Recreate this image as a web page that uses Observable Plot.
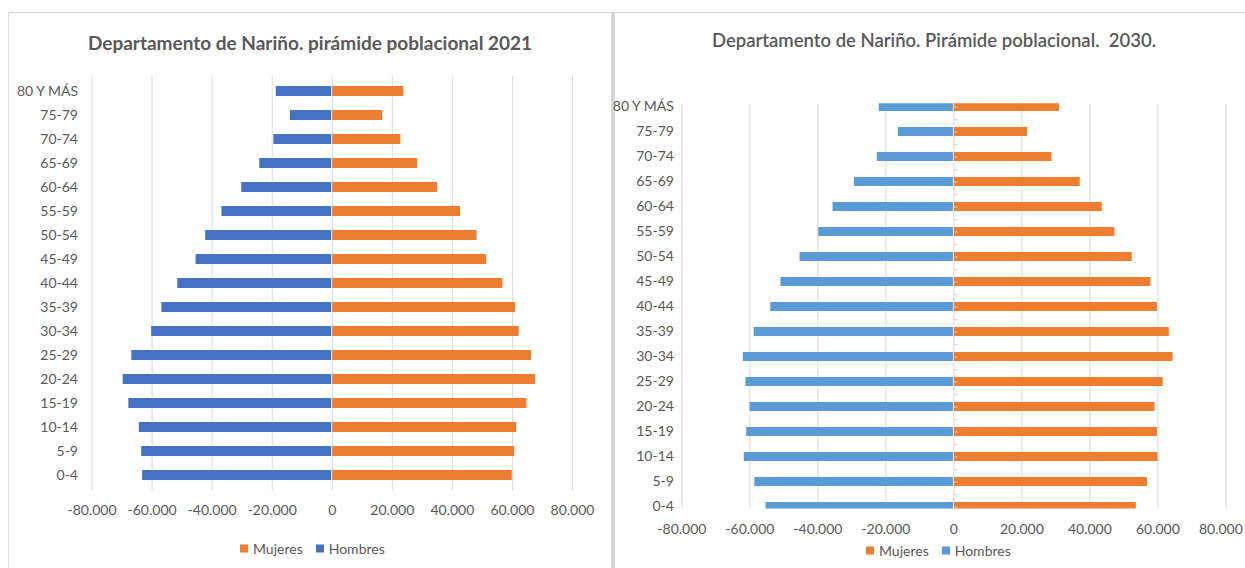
<!DOCTYPE html>
<html>
<head>
<meta charset="utf-8">
<script src="https://cdn.jsdelivr.net/npm/d3@7"></script>
<script src="https://cdn.jsdelivr.net/npm/@observablehq/plot@0.6"></script>
<style>
  html, body { margin: 0; padding: 0; background: #fff; width: 1245px; height: 568px; overflow: hidden; }
  body { position: relative; font-family: Lato, "Open Sans", sans-serif; color: #595959; }
  .panel { position: absolute; border: 1px solid #d9d9d9; box-sizing: border-box; }
  .abs { position: absolute; }
  .title { position: absolute; font-weight: bold; color: #595959; white-space: pre; transform: translate(-50%, -50%); }
  .leg { position: absolute; display: flex; align-items: center; font-size: 14px; color: #595959; white-space: nowrap; transform: translateY(-50%); }
  .sw { display: inline-block; width: 8px; height: 8px; margin-right: 5px; }
  .item { display: inline-flex; align-items: center; margin-right: 13px; }
</style>
</head>
<body>
<div class="panel" style="left:8px; top:12px; width:604px; height:600px;"></div>
<div class="panel" style="left:612px; top:12px; width:700px; height:600px; border-left:3px solid #d6d6d6;"></div>

<div class="title" style="left:310px; top:42px; font-size:19px;">Departamento de Nariño. pirámide poblacional 2021</div>
<div class="title" style="left:934px; top:40px; font-size:18.5px; font-weight:600;">Departamento de Nariño. Pirámide poblacional.  2030.</div>

<div id="left" class="abs" style="left:8px; top:65px;"></div>
<div id="right" class="abs" style="left:613px; top:80px;"></div>

<div class="leg" style="left:240px; top:548px;">
  <span class="item"><span class="sw" style="background:#ED7D31"></span>Mujeres</span>
  <span class="item"><span class="sw" style="background:#4472C4"></span>Hombres</span>
</div>
<div class="leg" style="left:866px; top:550px;">
  <span class="item"><span class="sw" style="background:#ED7D31"></span>Mujeres</span>
  <span class="item"><span class="sw" style="background:#5B9BD5"></span>Hombres</span>
</div>

<script>
// ---- Data ----
const ageGroups = ["0-4","5-9","10-14","15-19","20-24","25-29","30-34","35-39","40-44","45-49","50-54","55-59","60-64","65-69","70-74","75-79","80 Y MÁS"];

const hombres2021 = [63300, 63600, 64400, 67900, 69800, 66900, 60300, 56900, 51600, 45500, 42300, 36900, 30300, 24300, 19600, 14100, 18800];
const mujeres2021 = [60100, 60900, 61600, 65000, 67900, 66500, 62400, 61200, 57000, 51600, 48400, 42900, 35300, 28600, 23000, 17000, 24000];

const hombres2030 = [55400, 58700, 61800, 61100, 60100, 61300, 62100, 58900, 54000, 51000, 45400, 39900, 35700, 29400, 22700, 16500, 22100];
const mujeres2030 = [53800, 57100, 60200, 60000, 59300, 61700, 64600, 63500, 60000, 58100, 52600, 47500, 43800, 37300, 29000, 21800, 31200];

const xTicks = [-80000, -60000, -40000, -20000, 0, 20000, 40000, 60000, 80000];
const xTickLabels = ["-80.000", "-60.000", "-40.000", "-20.000", "0", "20.000", "40.000", "60.000", "80.000"];

const colors2021 = { Hombres: "#4472C4", Mujeres: "#ED7D31" };
const colors2030 = { Hombres: "#5B9BD5", Mujeres: "#ED7D31" };

function table(hombres, mujeres) {
  const rows = [];
  ageGroups.forEach((g, i) => {
    rows.push({ age: g, sex: "Hombres", value: -hombres[i] });
    rows.push({ age: g, sex: "Mujeres", value: mujeres[i] });
  });
  return rows;
}
const tickFmt = d => xTickLabels[xTicks.indexOf(d)];
const yDomain = ageGroups.slice().reverse();
const style = { fontFamily: "Lato, 'Open Sans', sans-serif", fontSize: "14px", color: "#595959", background: "transparent", overflow: "visible" };

// ---- Left: 2021 ----
const left = Plot.plot({
  width: 600, height: 460,
  marginLeft: 83.5, marginRight: 36, marginTop: 11, marginBottom: 35,
  style,
  x: { domain: [-80000, 80000], ticks: xTicks, tickFormat: tickFmt, tickSize: 0, tickPadding: 15, label: null },
  y: { domain: yDomain, paddingInner: 0.6, paddingOuter: 0.3, tickSize: 0, tickPadding: 14, label: null },
  color: { domain: ["Hombres", "Mujeres"], range: [colors2021.Hombres, colors2021.Mujeres] },
  marks: [
    Plot.ruleX(xTicks, { stroke: "#d9d9d9" }),
    Plot.barX(table(hombres2021, mujeres2021), { x: "value", y: "age", fill: "sex", insetLeft: 0.5, insetRight: 0.5 })
  ]
});
document.getElementById("left").appendChild(left);

// ---- Right: 2030 ----
const H = 460, mT = 23.3, mB = 31.5;
const frameTop = mT, frameBottom = H - mB;
const step = (frameBottom - frameTop) / (ageGroups.length - 1);
const right = Plot.plot({
  width: 632, height: H,
  marginLeft: 68.4, marginRight: 19.6, marginTop: mT, marginBottom: mB,
  style,
  x: { domain: [-80000, 80000], ticks: xTicks, tickFormat: tickFmt, tickSize: 0, tickPadding: 15, label: null },
  y: { domain: yDomain, range: [frameTop - step / 2, frameBottom + step / 2], paddingInner: 0.65, paddingOuter: 0.325, tickSize: 0, tickPadding: 8, label: null },
  color: { domain: ["Hombres", "Mujeres"], range: [colors2030.Hombres, colors2030.Mujeres] },
  marks: [
    Plot.ruleX(xTicks, { stroke: "#d9d9d9" }),
    Plot.barX(table(hombres2030, mujeres2030), { x: "value", y: "age", fill: "sex", insetLeft: 0.5, insetRight: 0.5, clip: true }),
    Plot.ruleY(ageGroups.slice(1), { y: d => d, x1: 0, x2: 1300, dy: step / 2, stroke: "#d9d9d9" }),
    Plot.ruleY(ageGroups, { y: d => d, x1: 0, x2: 1300, stroke: "#f3c9ad", clip: true })
  ]
});
document.getElementById("right").appendChild(right);
// keep the last x tick label (80.000) inside the window edge
const rightXTexts = Array.from(right.querySelectorAll("text")).filter(t => t.textContent === xTickLabels[xTickLabels.length - 1]);
rightXTexts.forEach(t => t.setAttribute("dx", "-5"));
</script>
</body>
</html>
